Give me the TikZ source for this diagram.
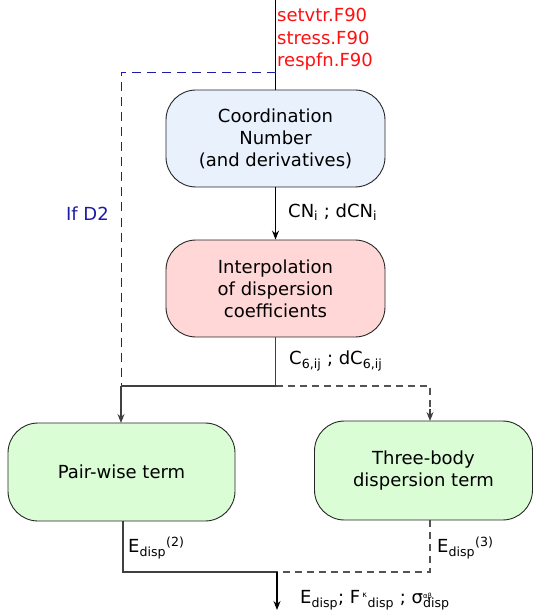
\documentclass[tikz,border=0pt]{standalone}
\usepackage{fontspec}
\setmainfont{DejaVu Sans}
\usetikzlibrary{arrows.meta}
\definecolor{boxblue}{HTML}{E9F1FD}
\definecolor{boxred}{HTML}{FFD7D7}
\definecolor{boxgreen}{HTML}{DAFDD6}
\definecolor{fred}{HTML}{FF1010}
\definecolor{dblue}{HTML}{1C1CA8}
\definecolor{lgray}{HTML}{404040}
\tikzset{
  box/.style={draw=black!85, line width=0.9pt, rounded corners=30pt, align=center,
    font=\fontsize{18}{22}\selectfont, inner sep=0pt},
  lbl/.style={font=\fontsize{18}{22}\selectfont, inner sep=0pt, anchor=west},
  conn/.style={draw=lgray, line width=1.1pt},
  dconn/.style={draw=lgray!90, line width=1.1pt, dash pattern=on 7pt off 5pt},
  bconn/.style={draw=dblue, line width=0.9pt, dash pattern=on 9pt off 6pt},
  arr/.style={-{Stealth[length=9pt,width=7pt,inset=3pt]}},
}
\begin{document}
\begin{tikzpicture}[x=1pt,y=-1pt]
\useasboundingbox (0,0) rectangle (533,612);
% boxes
\node[box, fill=boxblue, minimum width=219pt, minimum height=97pt] (cn) at (275.5,138.5)
  {Coordination\\Number\\(and derivatives)};
\node[box, fill=boxred, minimum width=219pt, minimum height=97pt] (interp) at (275.5,288.5)
  {Interpolation\\of dispersion\\coefficients};
\node[box, fill=boxgreen, minimum width=227pt, minimum height=98pt] (pair) at (121.5,472)
  {Pair-wise term};
\node[box, fill=boxgreen, minimum width=218pt, minimum height=99pt] (three) at (423.5,470.5)
  {Three-body\\dispersion term};
% coordinates
\coordinate (top) at (275.5,0);
\coordinate (d2start) at (275.5,72);
\coordinate (d2corner) at (121,72);
\coordinate (split) at (275.5,386);
\coordinate (leftjoin) at (121,386);
\coordinate (rightjoin) at (430,386);
\coordinate (pairin) at (121,423);
\coordinate (threein) at (430,421);
\coordinate (pairout) at (123,521);
\coordinate (threeout) at (430,520);
\coordinate (bl) at (123,572);
\coordinate (br) at (430,572);
\coordinate (merge) at (277,572);
\coordinate (end) at (277,610);
% connectors
\draw[draw=black, line width=1.1pt] (top) -- (cn.north);
\draw[bconn] (d2start) -- (d2corner) -- (leftjoin);
\draw[draw=black, line width=1.1pt, arr] (cn.south) -- (interp.north);
\draw[conn] (interp.south) -- (split) -- (leftjoin);
\draw[conn, arr] (leftjoin) -- (pairin);
\draw[dconn] (split) -- (rightjoin) -- ([yshift=3pt]threein);
\draw[conn, arr] ([yshift=12pt]threein) -- (threein);
\draw[conn] (pairout) -- (bl) -- (merge);
\draw[dconn] (threeout) -- (br) -- (merge);
\draw[draw=black, line width=1.1pt, arr] (merge) -- (end);
% labels
\node[lbl, anchor=north west, align=left, text=fred, font=\fontsize{18}{22.5}\selectfont] (files) at (277,8)
  {setvtr.F90\\stress.F90\\respfn.F90};
\node[lbl, anchor=east, text=dblue] (ifd2) at (109,214) {If D2};
\node[lbl] (cnlbl) at (288,212) {CN\textsubscript{i} ; dCN\textsubscript{i}};
\node[lbl] (c6lbl) at (289,361) {C\textsubscript{6,ij} ; dC\textsubscript{6,ij}};
\node[lbl] (e2) at (128,548) {E\textsubscript{disp}\textsuperscript{(2)}};
\node[lbl] (e3) at (437,548) {E\textsubscript{disp}\textsuperscript{(3)}};
\node[lbl] (eout) at (300,600) {E\textsubscript{disp}; F\textsuperscript{\,{\fontsize{8}{8}\selectfont κ}}\textsubscript{disp} ; σ\rlap{\raisebox{5pt}{\fontsize{7}{7}\selectfont αβ}}\textsubscript{disp}};
\end{tikzpicture}
\end{document}
